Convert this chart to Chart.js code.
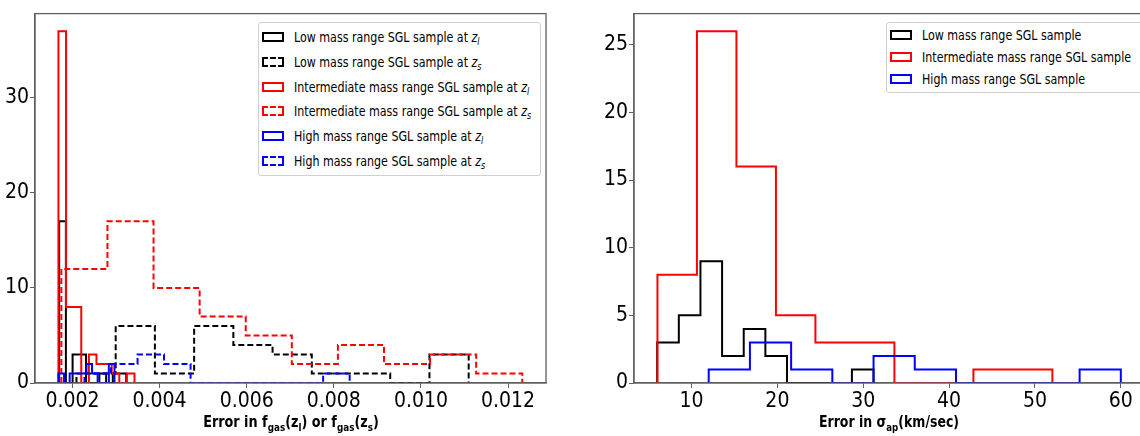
<!DOCTYPE html>
<html>
<head>
<meta charset="utf-8">
<script src="https://cdn.jsdelivr.net/npm/chart.js@4.4.1/dist/chart.umd.min.js"></script>
<style>
  html, body { margin: 0; padding: 0; background: #fff; overflow: hidden; }
  body { width: 1140px; height: 436px; position: relative; font-family: 'DejaVu Sans Condensed', 'DejaVu Sans', sans-serif; color: #000; }
  .panel { position: absolute; top: 0; height: 436px; width: 560px; }
  #leftPanel { left: 0; }
  #rightPanel { left: 590px; }
  .xtitle { position: absolute; top: 413px; font-weight: bold; font-size: 16px; line-height: 18px; white-space: nowrap; transform-origin: center; }
  .xtitle sub { font-size: 11px; vertical-align: -4px; line-height: 0; }
  .legend { position: absolute; background: #fff; border: 1px solid #d0d0d0; border-radius: 3px; font-size: 14px; box-sizing: border-box; overflow: hidden; }
  .legend div { display: flex; align-items: center; white-space: nowrap; }
  .legend span.h { flex: 0 0 auto; display: inline-block; box-sizing: border-box; width: 22px; height: 10px; margin: 0 10px 0 3px; border-width: 2px; }
  .legend span.t { display: inline-block; transform: scaleX(0.88); transform-origin: left center; }
  .legend sub { font-size: 10px; vertical-align: -3px; line-height: 0; }
  #leftLegend { left: 258px; top: 22px; width: 283px; height: 154px; padding-top: 2px; }
  #leftLegend div { height: 24.7px; }
  #rightLegend { left: 886px; top: 22px; width: 260px; height: 71px; padding-top: 1px; }
  #rightLegend div { height: 22.2px; }
</style>
</head>
<body>
<div class="panel" id="leftPanel"><canvas id="fgasChart"></canvas></div>
<div class="panel" id="rightPanel"><canvas id="sigmaChart"></canvas></div>

<div class="xtitle" style="left:290.5px; transform: translateX(-50%) scaleX(0.89)">Error in f<sub>gas</sub>(z<sub>l</sub>) or f<sub>gas</sub>(z<sub>s</sub>)</div>
<div class="xtitle" style="left:889px; transform: translateX(-50%) scaleX(0.87)">Error in σ<sub>ap</sub>(km/sec)</div>

<div class="legend" id="leftLegend">
  <div><span class="h" style="border-style:solid;border-color:#000"></span><span class="t">Low mass range SGL sample at <i>z<sub>l</sub></i></span></div>
  <div><span class="h" style="border-style:dashed;border-color:#000"></span><span class="t">Low mass range SGL sample at <i>z<sub>s</sub></i></span></div>
  <div><span class="h" style="border-style:solid;border-color:#f00"></span><span class="t">Intermediate mass range SGL sample at <i>z<sub>l</sub></i></span></div>
  <div><span class="h" style="border-style:dashed;border-color:#f00"></span><span class="t">Intermediate mass range SGL sample at <i>z<sub>s</sub></i></span></div>
  <div><span class="h" style="border-style:solid;border-color:#00f"></span><span class="t">High mass range SGL sample at <i>z<sub>l</sub></i></span></div>
  <div><span class="h" style="border-style:dashed;border-color:#00f"></span><span class="t">High mass range SGL sample at <i>z<sub>s</sub></i></span></div>
</div>
<div class="legend" id="rightLegend">
  <div><span class="h" style="border-style:solid;border-color:#000"></span><span class="t">Low mass range SGL sample</span></div>
  <div><span class="h" style="border-style:solid;border-color:#f00"></span><span class="t">Intermediate mass range SGL sample</span></div>
  <div><span class="h" style="border-style:solid;border-color:#00f"></span><span class="t">High mass range SGL sample</span></div>
</div>

<script>
// f_gas error histograms: bin edges and counts per sample
const lowZlEdges = [0.001695, 0.001849, 0.002003, 0.002157, 0.002311, 0.002464, 0.002618, 0.002772, 0.002926, 0.003080, 0.003234];
const lowZlCounts = [17, 0, 3, 3, 0, 0, 1, 0, 1, 1];
const lowZsEdges = [0.002092, 0.002992, 0.003892, 0.004793, 0.005693, 0.006593, 0.007494, 0.008394, 0.009294, 0.010195, 0.011095];
const lowZsCounts = [1, 6, 1, 6, 4, 3, 1, 1, 0, 3];
const midZlEdges = [0.001678, 0.001853, 0.002028, 0.002202, 0.002377, 0.002551, 0.002726, 0.002900, 0.003075, 0.003249, 0.003424];
const midZlCounts = [37, 8, 8, 0, 3, 2, 2, 1, 0, 1];
const midZsEdges = [0.001745, 0.002803, 0.003861, 0.004919, 0.005977, 0.007035, 0.008093, 0.009151, 0.010209, 0.011267, 0.012325];
const midZsCounts = [12, 17, 10, 7, 5, 2, 4, 2, 3, 1];
const highZlEdges = [0.001678, 0.001807, 0.001935, 0.002064, 0.002192, 0.002321, 0.002450, 0.002578, 0.002707, 0.002835, 0.002964];
const highZlCounts = [1, 0, 1, 1, 1, 2, 1, 0, 0, 2];
const highZsEdges = [0.002276, 0.002885, 0.003494, 0.004102, 0.004711, 0.005320, 0.005928, 0.006537, 0.007146, 0.007754, 0.008363];
const highZsCounts = [1, 2, 3, 2, 0, 0, 0, 0, 0, 1];
const fgasTicks = [0.002, 0.004, 0.006, 0.008, 0.010, 0.012];
const fgasCountTicks = [0, 10, 20, 30];

// sigma_ap error histograms
const lowSigmaEdges = [6.0, 8.52, 11.04, 13.56, 16.08, 18.6, 21.12, 23.64, 26.16, 28.68, 31.2];
const lowSigmaCounts = [3, 5, 9, 2, 4, 2, 0, 0, 0, 1];
const midSigmaEdges = [6.03, 10.63, 15.23, 19.83, 24.43, 29.03, 33.63, 38.23, 42.83, 47.43, 52.03];
const midSigmaCounts = [8, 26, 16, 5, 3, 3, 0, 0, 1, 1];
const highSigmaEdges = [12.0, 16.8, 21.6, 26.4, 31.2, 36.0, 40.8, 45.6, 50.4, 55.2, 60.0];
const highSigmaCounts = [1, 3, 1, 0, 2, 1, 0, 0, 0, 1];
const sigmaTicks = [10, 20, 30, 40, 50, 60];
const sigmaCountTicks = [0, 5, 10, 15, 20, 25];

const tickFont = { family: "'DejaVu Sans Condensed', 'DejaVu Sans', sans-serif", size: 21 };
const axisColor = '#606060';

// step outline of a histogram, like histtype='step'
function outline(edges, counts) {
    const pts = [{ x: edges[0], y: 0 }];
    counts.forEach((c, i) => {
        pts.push({ x: edges[i], y: c }, { x: edges[i + 1], y: c });
    });
    pts.push({ x: edges[edges.length - 1], y: 0 });
    return pts;
}

function series(edges, counts, color, dashed, order) {
    return {
        data: outline(edges, counts),
        borderColor: color,
        borderWidth: 2,
        borderDash: dashed ? [6, 3] : [],
        pointRadius: 0,
        tension: 0,
        fill: false,
        order: order,
    };
}

const frame = {
    id: 'frame',
    afterDatasetsDraw(chart) {
        const { ctx, chartArea: a } = chart;
        ctx.save();
        ctx.strokeStyle = axisColor;
        ctx.lineWidth = 1.3;
        ctx.strokeRect(a.left, a.top, a.right - a.left, a.bottom - a.top);
        ctx.restore();
    },
};

function axis(min, max, tickValues, format, extra) {
    return Object.assign({
        type: 'linear',
        min: min,
        max: max,
        afterBuildTicks: (s) => { s.ticks = tickValues.map((v) => ({ value: v })); },
        ticks: { font: tickFont, color: '#000', callback: format, autoSkip: false, maxRotation: 0, padding: 1 },
        grid: { drawOnChartArea: false, tickLength: 5, tickColor: axisColor },
        border: { display: true, color: axisColor, width: 1.3 },
    }, extra);
}

function makeChart(id, datasets, xAxis, yAxis, padRight) {
    return new Chart(document.getElementById(id), {
        type: 'line',
        data: { datasets: datasets },
        options: {
            responsive: true,
            maintainAspectRatio: false,
            animation: false,
            devicePixelRatio: 1,
            layout: { padding: { top: 13, right: padRight, left: 0, bottom: 0 } },
            plugins: { legend: { display: false }, tooltip: { enabled: false } },
            scales: { x: xAxis, y: yAxis },
        },
        plugins: [frame],
    });
}

makeChart('fgasChart', [
    series(lowZlEdges, lowZlCounts, '#000', false, 5),
    series(lowZsEdges, lowZsCounts, '#000', true, 4),
    series(midZlEdges, midZlCounts, '#f00', false, 3),
    series(midZsEdges, midZsCounts, '#f00', true, 2),
    series(highZlEdges, highZlCounts, '#00f', false, 1),
    series(highZsEdges, highZsCounts, '#00f', true, 0),
],
    axis(0.00114, 0.01287, fgasTicks, (v) => v.toFixed(3), {
        afterFit: (s) => { s.height = 53; },
    }),
    axis(0, 38.85, fgasCountTicks, (v) => String(v), {
        afterFit: (s) => { s.width = 35; },
    }),
    14);

makeChart('sigmaChart', [
    series(lowSigmaEdges, lowSigmaCounts, '#000', false, 2),
    series(midSigmaEdges, midSigmaCounts, '#f00', false, 1),
    series(highSigmaEdges, highSigmaCounts, '#00f', false, 0),
],
    axis(3.3, 62.7, sigmaTicks, (v) => String(v), {
        afterFit: (s) => { s.height = 53; },
    }),
    axis(0, 27.3, sigmaCountTicks, (v) => String(v), {
        afterFit: (s) => { s.width = 44; },
    }),
    6);
</script>
</body>
</html>
